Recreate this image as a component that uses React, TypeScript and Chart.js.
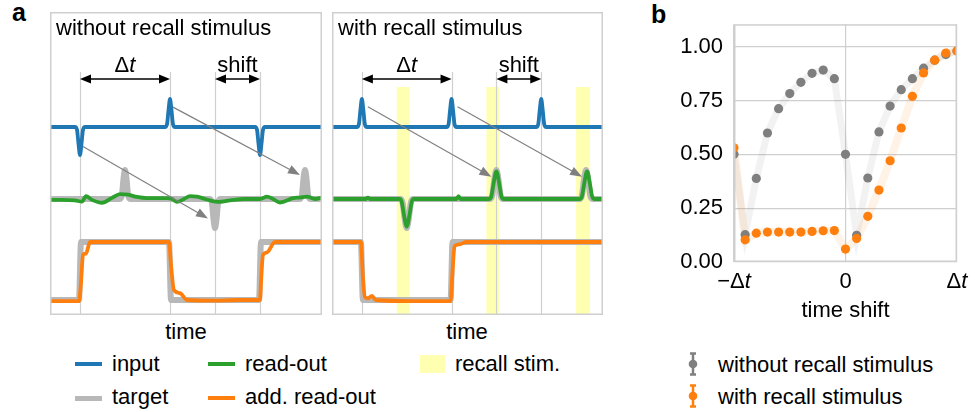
import React, { useEffect, useRef } from "react";
import { Chart, registerables } from "chart.js";
Chart.register(...registerables);

type P = [number, number];

const SANS = '"Liberation Sans", Arial, Helvetica, sans-serif';
const FS = 22;
const BLUE = "#1f77b4";
const GREEN = "#2ca02c";
const ORANGE = "#ff7f0e";
const GRAY = "#7f7f7f";
const TARGET_C = "#b8b8b8";
const FRAME_C = "#cfcfcf";
const YELLOW = "rgba(255,255,0,0.3)";

// ---------- panel a : time axis (arbitrary units, Δt = 90) ----------
const T_MAX = 272;
const markerTimes = [30, 120, 165, 210];
const deltaSpan: P = [30, 120];
const shiftSpan: P = [165, 210];
const recallBands: P[] = [[65, 78], [155, 168], [245, 259]];

// without recall stimulus
const inputA: P[] = [
  [0, 0], [25, 0], [27, -0.1], [28.5, -0.6], [30, -1], [31.5, -0.6], [33, -0.1], [35, 0],
  [115, 0], [117, 0.1], [118.5, 0.6], [120, 1], [121.5, 0.6], [123, 0.1], [125, 0],
  [205, 0], [207, -0.1], [208.5, -0.6], [210, -1], [211.5, -0.6], [213, -0.1], [215, 0], [272, 0],
];
const targetOutA: P[] = [
  [0, 0], [70, 0], [72, 0.15], [73.5, 0.7], [75, 1], [76.5, 0.7], [78, 0.15], [80, 0],
  [160, 0], [162, -0.15], [163.5, -0.7], [165, -1], [166.5, -0.7], [168, -0.15], [170, 0],
  [250, 0], [252, 0.15], [253.5, 0.7], [255, 1], [256.5, 0.7], [258, 0.15], [260, 0], [272, 0],
];
const readoutA: P[] = [
  [0, -0.03], [12, -0.03], [25, -0.05], [32, -0.09], [36, 0.1], [42, -0.03], [52, -0.13],
  [62, 0.04], [70, 0.17], [78, 0.15], [87, 0.07], [97, 0.03], [117, 0.03], [122, 0.0],
  [127, -0.1], [134, 0.0], [140, 0.1], [147, 0.08], [155, 0.0], [160, -0.05], [168, -0.1],
  [180, -0.05], [195, 0.0], [210, 0.0], [217, 0.08], [223, 0.0], [230, -0.12], [243, 0.03],
  [250, 0.05], [257, 0.08], [265, 0.0], [272, 0.05],
];
const targetAddA: P[] = [[0, 0], [29, 0], [31, 1], [119, 1], [121, 0], [209, 0], [211, 1], [272, 1]];
const addA: P[] = [
  [0, -0.02], [29, -0.02], [31, 0.3], [33, 0.78], [36, 0.8], [40, 1.0], [60, 1.0], [90, 1.0],
  [119, 1.0], [121, 0.6], [124, 0.17], [130, 0.12], [137, 0.0], [160, -0.01], [190, 0.0],
  [210, 0.0], [211, 0.3], [213, 0.78], [217, 0.82], [225, 1.0], [272, 1.0],
];
const arrowsA: { from: P; to: P }[] = [
  { from: [33, -0.7], to: [158, -0.67] },
  { from: [123, 0.71], to: [250, 0.83] },
];

// with recall stimulus
const inputB: P[] = [
  [0, 0], [25, 0], [27, 0.1], [28.5, 0.6], [30, 1], [31.5, 0.6], [33, 0.1], [35, 0],
  [115, 0], [117, 0.1], [118.5, 0.6], [120, 1], [121.5, 0.6], [123, 0.1], [125, 0],
  [205, 0], [207, 0.1], [208.5, 0.6], [210, 1], [211.5, 0.6], [213, 0.1], [215, 0], [272, 0],
];
const targetOutB: P[] = [
  [0, 0], [69, 0], [71, -0.15], [73, -0.7], [75, -1], [77, -0.7], [79, -0.15], [81, 0],
  [159, 0], [161, 0.15], [163, 0.7], [165, 1], [167, 0.7], [169, 0.15], [171, 0],
  [249, 0], [251, 0.15], [253, 0.7], [255, 1], [257, 0.7], [259, 0.15], [261, 0], [272, 0],
];
const readoutB: P[] = [
  [0, 0], [34, 0], [36, 0.05], [38, 0], [68, 0], [70, -0.1], [72, -0.5], [75, -0.95],
  [78, -0.5], [80, -0.1], [82, 0], [125, 0], [127, 0.1], [129, 0], [158, 0], [160, 0.1],
  [162, 0.5], [165, 0.95], [168, 0.5], [170, 0.1], [172, 0], [249, 0], [251, 0.1],
  [253, 0.5], [256, 0.95], [259, 0.5], [261, 0.1], [263, 0], [272, 0],
];
const targetAddB: P[] = [[0, 1], [29, 1], [31, 0], [119, 0], [121, 1], [272, 1]];
const addB: P[] = [
  [0, 1.0], [29, 1.0], [31, 0.4], [33, 0.05], [36, 0.03], [40, 0.07], [44, 0.0], [80, -0.02],
  [119, -0.02], [121, 0.5], [123, 0.93], [128, 0.96], [135, 1.0], [272, 1.0],
];
const arrowsB: { from: P; to: P }[] = [
  { from: [36, 0.72], to: [160, 0.77] },
  { from: [126, 0.72], to: [251, 0.77] },
];

// ---------- panel b ----------
const timeShift = [-1, -0.9, -0.8, -0.7, -0.6, -0.5, -0.4, -0.3, -0.2, -0.1, 0, 0.1, 0.2, 0.3, 0.4, 0.5, 0.6, 0.7, 0.8, 0.9, 1.0];
const errWithout = [0.5, 0.127, 0.388, 0.599, 0.712, 0.782, 0.834, 0.876, 0.891, 0.851, 0.5, 0.124, 0.39, 0.604, 0.724, 0.8, 0.851, 0.9, 0.937, 0.963, 0.98];
const errWith = [0.53, 0.103, 0.134, 0.139, 0.139, 0.139, 0.139, 0.142, 0.145, 0.146, 0.06, 0.109, 0.212, 0.334, 0.47, 0.622, 0.769, 0.878, 0.937, 0.97, 0.98];
const errTicks = [0, 0.25, 0.5, 0.75, 1.0];
const shiftTicks = [-1, 0, 1];

// ---------- helpers ----------
const font = (size: number, italic = false, bold = false) =>
  `${italic ? "italic " : ""}${bold ? "bold " : ""}${size}px ${SANS}`;

function drawMixed(ctx: CanvasRenderingContext2D, parts: { t: string; it?: boolean }[], x: number, y: number, align: "center" | "left", size: number) {
  const widths = parts.map((p) => { ctx.font = font(size, !!p.it); return ctx.measureText(p.t).width; });
  const total = widths.reduce((a, b) => a + b, 0);
  let cx = align === "center" ? x - total / 2 : x;
  ctx.textAlign = "left";
  parts.forEach((p, i) => { ctx.font = font(size, !!p.it); ctx.fillText(p.t, cx, y); cx += widths[i]; });
}

function head(ctx: CanvasRenderingContext2D, x1: number, y1: number, x2: number, y2: number, len: number, w: number, color: string) {
  const a = Math.atan2(y2 - y1, x2 - x1);
  ctx.save();
  ctx.translate(x2, y2);
  ctx.rotate(a);
  ctx.beginPath();
  ctx.moveTo(0, 0);
  ctx.lineTo(-len, w / 2);
  ctx.lineTo(-len, -w / 2);
  ctx.closePath();
  ctx.fillStyle = color;
  ctx.fill();
  ctx.restore();
}

const lane = (zeroPx: number, unitPx: number, h: number) => ({ min: -(h - zeroPx) / unitPx, max: zeroPx / unitPx });
const xy = (d: P[]) => d.map(([x, y]) => ({ x, y }));

type PanelProps = {
  left: number; width: number; title: string;
  input: P[]; targetOut: P[]; readout: P[]; targetAdd: P[]; add: P[];
  arrows: { from: P; to: P }[]; bands: P[];
};

const PANEL_TOP = 12;
const PANEL_H = 303;

function TracePanel(p: PanelProps) {
  const ref = useRef<HTMLCanvasElement>(null);
  useEffect(() => {
    const canvas = ref.current!;
    const plugin = {
      id: "panelDeco",
      beforeDatasetsDraw(chart: any) {
        const { ctx, chartArea: ca, scales } = chart;
        ctx.save();
        ctx.fillStyle = YELLOW;
        p.bands.forEach(([a, b]) => {
          const x1 = scales.x.getPixelForValue(a), x2 = scales.x.getPixelForValue(b);
          ctx.fillRect(x1, ca.top + 75, x2 - x1, ca.bottom - ca.top - 75);
        });
        ctx.strokeStyle = FRAME_C;
        ctx.lineWidth = 1.2;
        markerTimes.forEach((t) => {
          const x = Math.round(scales.x.getPixelForValue(t)) + 0.5;
          ctx.beginPath();
          ctx.moveTo(x, ca.top + 60);
          ctx.lineTo(x, ca.bottom);
          ctx.stroke();
        });
        ctx.restore();
      },
      afterDatasetsDraw(chart: any) {
        const { ctx, chartArea: ca, scales } = chart;
        ctx.save();
        ctx.strokeStyle = FRAME_C;
        ctx.lineWidth = 1.5;
        ctx.strokeRect(ca.left + 0.75, ca.top + 0.75, ca.right - ca.left - 1.5, ca.bottom - ca.top - 1.5);
        ctx.fillStyle = "#000";
        ctx.textBaseline = "alphabetic";
        ctx.font = font(FS);
        ctx.textAlign = "left";
        ctx.fillText(p.title, ca.left + 6, ca.top + 23);
        const yA = ca.top + 67;
        [deltaSpan, shiftSpan].forEach(([a, b]) => {
          const x1 = scales.x.getPixelForValue(a), x2 = scales.x.getPixelForValue(b);
          ctx.strokeStyle = "#000";
          ctx.lineWidth = 1.5;
          ctx.beginPath();
          ctx.moveTo(x1 + 6, yA);
          ctx.lineTo(x2 - 6, yA);
          ctx.stroke();
          head(ctx, x2, yA, x1, yA, 11, 9, "#000");
          head(ctx, x1, yA, x2, yA, 11, 9, "#000");
        });
        ctx.fillStyle = "#000";
        drawMixed(ctx, [{ t: "Δ" }, { t: "t", it: true }], scales.x.getPixelForValue((deltaSpan[0] + deltaSpan[1]) / 2), ca.top + 60, "center", FS);
        drawMixed(ctx, [{ t: "shift" }], scales.x.getPixelForValue((shiftSpan[0] + shiftSpan[1]) / 2), ca.top + 60, "center", FS);
        p.arrows.forEach(({ from, to }) => {
          const x1 = scales.x.getPixelForValue(from[0]), y1 = scales.yIn.getPixelForValue(from[1]);
          const x2 = scales.x.getPixelForValue(to[0]), y2 = scales.yOut.getPixelForValue(to[1]);
          const a = Math.atan2(y2 - y1, x2 - x1);
          ctx.strokeStyle = "#808080";
          ctx.lineWidth = 1.2;
          ctx.beginPath();
          ctx.moveTo(x1, y1);
          ctx.lineTo(x2 - 10 * Math.cos(a), y2 - 10 * Math.sin(a));
          ctx.stroke();
          head(ctx, x1, y1, x2, y2, 12, 9, "#808080");
        });
        ctx.restore();
      },
    };
    const line = (data: P[], axis: string, color: string, w: number) => ({
      data: xy(data), yAxisID: axis, borderColor: color, borderWidth: w, pointRadius: 0,
      fill: false, clip: 0, cubicInterpolationMode: "monotone" as const,
    });
    // first dataset is drawn on top
    const chart = new Chart(canvas, {
      type: "line",
      data: {
        datasets: [
          line(p.input, "yIn", BLUE, 3.8),
          line(p.add, "yAdd", ORANGE, 3.8),
          line(p.readout, "yOut", GREEN, 3.8),
          line(p.targetAdd, "yAdd", TARGET_C, 6),
          line(p.targetOut, "yOut", TARGET_C, 6),
        ] as any,
      },
      options: {
        responsive: false,
        animation: false,
        events: [],
        layout: { padding: 0 },
        elements: { line: { borderCapStyle: "round", borderJoinStyle: "round" } },
        plugins: { legend: { display: false }, tooltip: { enabled: false } },
        scales: {
          x: { type: "linear", min: 0, max: T_MAX, display: false },
          yIn: { type: "linear", display: false, ...lane(115, 28, PANEL_H) },
          yOut: { type: "linear", display: false, ...lane(187, 29, PANEL_H) },
          yAdd: { type: "linear", display: false, ...lane(288, 58, PANEL_H) },
        },
      } as any,
      plugins: [plugin],
    });
    return () => chart.destroy();
  }, []);
  return (
    <canvas ref={ref} width={p.width} height={PANEL_H}
      style={{ position: "absolute", left: p.left, top: PANEL_TOP, width: p.width, height: PANEL_H }} />
  );
}

function ErrorPanel() {
  const ref = useRef<HTMLCanvasElement>(null);
  useEffect(() => {
    const canvas = ref.current!;
    const plugin = {
      id: "errDeco",
      afterDraw(chart: any) {
        const { ctx, chartArea: ca, scales } = chart;
        ctx.save();
        ctx.strokeStyle = FRAME_C;
        ctx.lineWidth = 1.5;
        ctx.strokeRect(ca.left + 0.75, ca.top + 0.75, ca.right - ca.left - 1.5, ca.bottom - ca.top - 1.5);
        ctx.fillStyle = "#000";
        ctx.textBaseline = "alphabetic";
        const labels: { t: string; it?: boolean }[][] = [
          [{ t: "−Δ" }, { t: "t", it: true }],
          [{ t: "0" }],
          [{ t: "Δ" }, { t: "t", it: true }],
        ];
        shiftTicks.forEach((v, i) => {
          drawMixed(ctx, labels[i], scales.x.getPixelForValue(v), 288, "center", FS);
        });
        drawMixed(ctx, [{ t: "time shift" }], (ca.left + ca.right) / 2, 317, "center", FS);
        ctx.translate(672, (ca.top + ca.bottom) / 2);
        ctx.rotate(-Math.PI / 2);
        drawMixed(ctx, [{ t: "error " }, { t: "E", it: true }], 0, 0, "center", FS);
        ctx.restore();
      },
    };
    const pts = (vals: number[]) => timeShift.map((x, i) => ({ x, y: vals[i] }));
    // first dataset is drawn on top
    const chart = new Chart(canvas, {
      type: "line",
      data: {
        datasets: [
          { data: pts(errWith), showLine: false, pointRadius: 4.6, pointBackgroundColor: ORANGE, pointBorderWidth: 0, borderColor: ORANGE, clip: 0 },
          { data: pts(errWithout), showLine: false, pointRadius: 4.6, pointBackgroundColor: GRAY, pointBorderWidth: 0, borderColor: GRAY, clip: 0 },
          { data: pts(errWith), borderColor: "rgba(255,127,14,0.1)", borderWidth: 8, pointRadius: 0, clip: 0 },
          { data: pts(errWithout), borderColor: "rgba(127,127,127,0.1)", borderWidth: 7, pointRadius: 0, clip: 0 },
        ] as any,
      },
      options: {
        responsive: false,
        animation: false,
        events: [],
        layout: { padding: { top: 15, right: 18, left: 0, bottom: 0 } },
        plugins: { legend: { display: false }, tooltip: { enabled: false } },
        scales: {
          x: {
            type: "linear", min: -1, max: 1,
            afterBuildTicks: (s: any) => { s.ticks = shiftTicks.map((v) => ({ value: v })); },
            afterFit: (s: any) => { s.height = 63; },
            ticks: { display: false },
            grid: { color: FRAME_C, lineWidth: 1.2, drawTicks: false },
            border: { display: false },
          },
          y: {
            type: "linear", min: 0, max: 1.104,
            afterBuildTicks: (s: any) => { s.ticks = errTicks.map((v) => ({ value: v })); },
            afterFit: (s: any) => { s.width = 94; },
            ticks: { color: "#000", padding: 11, font: { family: SANS, size: FS }, callback: (v: any) => Number(v).toFixed(2) },
            grid: { color: FRAME_C, lineWidth: 1.2, drawTicks: false },
            border: { display: false },
          },
        },
      } as any,
      plugins: [plugin],
    });
    return () => chart.destroy();
  }, []);
  return <canvas ref={ref} width={335} height={325} style={{ position: "absolute", left: 640, top: 0, width: 335, height: 325 }} />;
}

const txt = (extra: React.CSSProperties): React.CSSProperties => ({
  position: "absolute", fontFamily: SANS, fontSize: FS, lineHeight: `${FS}px`, color: "#000", whiteSpace: "nowrap", ...extra,
});

function Swatch({ x, y, color, w = 4 }: { x: number; y: number; color: string; w?: number }) {
  return <div style={{ position: "absolute", left: x, top: y - w / 2, width: 27, height: w, background: color }} />;
}

function ErrIcon({ x, y, color }: { x: number; y: number; color: string }) {
  return (
    <svg style={{ position: "absolute", left: x - 6, top: y - 12 }} width={12} height={24}>
      <line x1={6} y1={1} x2={6} y2={23} stroke={color} strokeWidth={2.5} />
      <line x1={3} y1={1.5} x2={9} y2={1.5} stroke={color} strokeWidth={2.5} />
      <line x1={3} y1={22.5} x2={9} y2={22.5} stroke={color} strokeWidth={2.5} />
      <circle cx={6} cy={12} r={4.3} fill={color} />
    </svg>
  );
}

export default function App() {
  const B = 19; // baseline offset inside a line box
  return (
    <div style={{ position: "absolute", left: 0, top: 0, width: 975, height: 412, background: "#fff", overflow: "hidden" }}>
      <div style={txt({ left: 12, top: 0, fontWeight: "bold", fontSize: 25, lineHeight: "25px" })}>a</div>
      <div style={txt({ left: 651, top: 2, fontWeight: "bold", fontSize: 25, lineHeight: "25px" })}>b</div>
      <TracePanel left={50} width={272} title="without recall stimulus" input={inputA} targetOut={targetOutA}
        readout={readoutA} targetAdd={targetAddA} add={addA} arrows={arrowsA} bands={[]} />
      <TracePanel left={332} width={271} title="with recall stimulus" input={inputB} targetOut={targetOutB}
        readout={readoutB} targetAdd={targetAddB} add={addB} arrows={arrowsB} bands={recallBands} />
      <div style={txt({ left: 136, width: 100, textAlign: "center", top: 340 - B })}>time</div>
      <div style={txt({ left: 417, width: 100, textAlign: "center", top: 340 - B })}>time</div>
      <ErrorPanel />
      <Swatch x={75} y={364} color={BLUE} />
      <div style={txt({ left: 112, top: 372 - B })}>input</div>
      <Swatch x={75} y={398} color={TARGET_C} w={5} />
      <div style={txt({ left: 112, top: 405 - B })}>target</div>
      <Swatch x={208} y={364} color={GREEN} />
      <div style={txt({ left: 245, top: 372 - B })}>read-out</div>
      <Swatch x={208} y={398} color={ORANGE} />
      <div style={txt({ left: 245, top: 405 - B })}>add. read-out</div>
      <div style={{ position: "absolute", left: 420, top: 355, width: 25, height: 18, background: YELLOW }} />
      <div style={txt({ left: 455, top: 372 - B })}>recall stim.</div>
      <ErrIcon x={693} y={364} color={GRAY} />
      <div style={txt({ left: 718, top: 373 - B })}>without recall stimulus</div>
      <ErrIcon x={693} y={396} color={ORANGE} />
      <div style={txt({ left: 718, top: 405 - B })}>with recall stimulus</div>
    </div>
  );
}
